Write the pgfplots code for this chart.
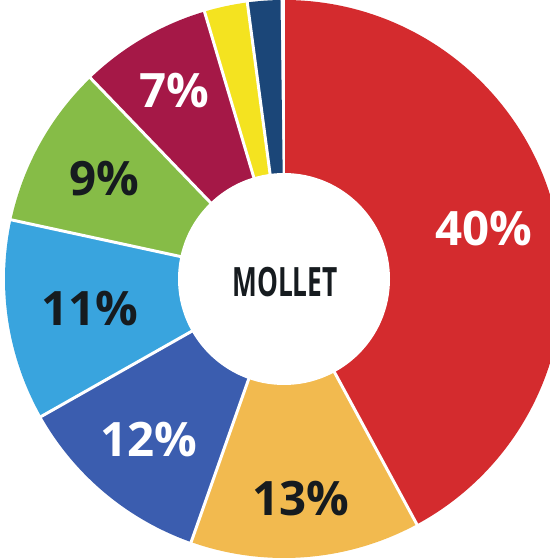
\documentclass[border=0pt]{standalone}
\usepackage{fontspec}
\setmainfont{Open Sans}
\usepackage{graphicx}
\usepackage{pgfplots}
\usepackage{pgfplotstable}
\pgfplotsset{compat=1.18}
\definecolor{cRed}{HTML}{D42B2E}
\definecolor{cOrange}{HTML}{F2BA4F}
\definecolor{cBlue}{HTML}{3B5DAF}
\definecolor{cLight}{HTML}{39A4DE}
\definecolor{cGreen}{HTML}{86BC47}
\definecolor{cMaroon}{HTML}{A51847}
\definecolor{cYellow}{HTML}{F4E320}
\definecolor{cNavy}{HTML}{1B4678}
\definecolor{cText}{HTML}{161B1F}

% slices clockwise from 12 o'clock; label 0 = no label
\pgfplotstableread{
value color   label tcolor lr
42.1  cRed    40    white  206
13.3  cOrange 13    cText  220
11.4  cBlue   12    white  210
11.6  cLight  11    cText  196
9.4   cGreen  9     cText  206
7.6   cMaroon 7     white  218
2.5   cYellow 0     white  0
1.9   cNavy   0     white  0
}\slices

\begin{document}
\begin{tikzpicture}
\begin{axis}[
  x=0.02cm, y=0.02cm,
  xmin=-284, xmax=266, ymin=-280, ymax=279,
  scale only axis,
  hide axis,
  clip=true,
  axis background/.style={fill=white},
]
\pgfplotstablegetrowsof{\slices}
\pgfmathtruncatemacro\nrows{\pgfplotsretval-1}
\def\ro{279}
\def\ri{106}
% wedges
\def\angA{90}
\pgfplotsforeachungrouped \i in {0,...,\nrows}{%
  \pgfplotstablegetelem{\i}{value}\of\slices \let\v\pgfplotsretval
  \pgfplotstablegetelem{\i}{color}\of\slices \let\c\pgfplotsretval
  \pgfmathsetmacro\angB{\angA-3.6*\v}
  \edef\temp{\noexpand\fill[\c] (0,0) -- ({\ro*cos(\angA)},{\ro*sin(\angA)})
    arc[start angle=\angA, end angle=\angB, radius=\ro*0.02cm] -- cycle;}
  \temp
  \global\let\angA\angB
}
% white separators
\def\angA{90}
\pgfplotsforeachungrouped \i in {0,...,\nrows}{%
  \pgfplotstablegetelem{\i}{value}\of\slices \let\v\pgfplotsretval
  \edef\temp{\noexpand\draw[white, line width=1.7pt] (0,0) -- ({(\ro+5)*cos(\angA)},{(\ro+5)*sin(\angA)});}
  \temp
  \pgfmathsetmacro\angB{\angA-3.6*\v}
  \global\let\angA\angB
}
% centre hole
\fill[white] (0,0) circle[radius=\ri*0.02cm];
% labels
\def\angA{90}
\pgfplotsforeachungrouped \i in {0,...,\nrows}{%
  \pgfplotstablegetelem{\i}{value}\of\slices \let\v\pgfplotsretval
  \pgfplotstablegetelem{\i}{label}\of\slices \let\lb\pgfplotsretval
  \pgfplotstablegetelem{\i}{tcolor}\of\slices \let\tc\pgfplotsretval
  \pgfplotstablegetelem{\i}{lr}\of\slices \let\r\pgfplotsretval
  \pgfmathsetmacro\angB{\angA-3.6*\v}
  \pgfmathsetmacro\mid{(\angA+\angB)/2}
  \ifnum\lb>0
    \edef\temp{\noexpand\node[text=\tc, font=\noexpand\fontsize{27}{30}\noexpand\selectfont\noexpand\bfseries]
      at ({\r*cos(\mid)},{\r*sin(\mid)}) {\lb\noexpand\%};}
    \temp
  \fi
  \global\let\angA\angB
}
\node[font=\fontsize{23}{26}\selectfont\bfseries, text=cText] at (1,-3) {\scalebox{0.65}[1]{MOLLET}};
\end{axis}
\end{tikzpicture}
\end{document}
